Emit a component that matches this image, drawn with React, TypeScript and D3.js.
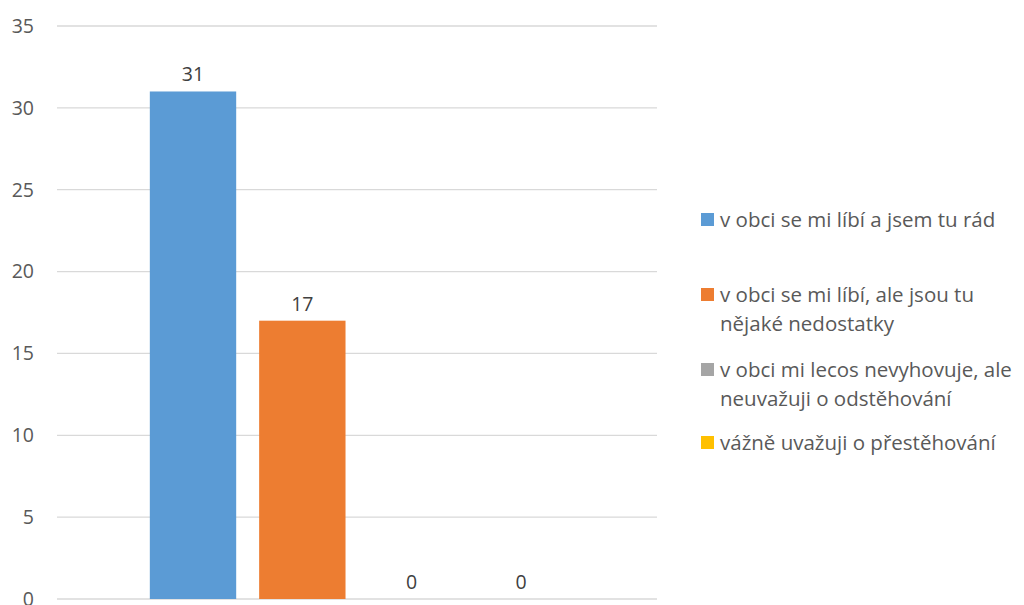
import React from 'react';
import * as d3 from 'd3';

const seriesNames = [
  'v obci se mi líbí a jsem tu rád',
  'v obci se mi líbí, ale jsou tu nějaké nedostatky',
  'v obci mi lecos nevyhovuje, ale neuvažuji o odstěhování',
  'vážně uvažuji o přestěhování',
];
const legendLines = [
  ['v obci se mi líbí a jsem tu rád'],
  ['v obci se mi líbí, ale jsou tu', 'nějaké nedostatky'],
  ['v obci mi lecos nevyhovuje, ale', 'neuvažuji o odstěhování'],
  ['vážně uvažuji o přestěhování'],
];
const values = [31, 17, 0, 0];
const colors = ['#5B9BD5', '#ED7D31', '#A5A5A5', '#FFC000'];
const yTicks = [0, 5, 10, 15, 20, 25, 30, 35];
const legendY = [220, 295, 370, 443];

const W = 1024;
const H = 605;
const FONT = '"Open Sans", sans-serif';

const App: React.FC = () => {
  const plot = { left: 57, right: 657, top: 26, bottom: 599 };

  const y = d3.scaleLinear().domain([0, 35]).range([plot.bottom, plot.top]);
  const x0 = d3.scaleBand<string>().domain(['all']).range([plot.left, plot.right]).padding(0.183);
  const x1 = d3.scaleBand<string>()
    .domain(seriesNames)
    .range([0, x0.bandwidth()])
    .paddingInner(0.21)
    .paddingOuter(0);
  const gx = x0('all')!;

  return (
    <div style={{ position: 'fixed', left: 0, top: 0, width: W, height: H, background: '#fff' }}>
      <svg width={W} height={H} style={{ display: 'block' }} fontFamily={FONT}>
        {/* grid */}
        {yTicks.map(t => (
          <line key={'g' + t} x1={plot.left} x2={plot.right} y1={y(t)} y2={y(t)}
            stroke="#d9d9d9" strokeWidth={1.3} />
        ))}
        {/* y labels */}
        {yTicks.map(t => (
          <text key={'t' + t} x={34} y={y(t)} dy="0.35em" textAnchor="end"
            fontSize={19.5} fill="#595959">{t}</text>
        ))}
        {/* bars */}
        {seriesNames.map((s, i) => {
          const bx = gx + x1(s)!;
          const bw = x1.bandwidth();
          return (
            <g key={s}>
              <rect x={bx} width={bw} y={y(values[i])} height={y(0) - y(values[i])} fill={colors[i]} />
              <text x={bx + bw / 2} y={y(values[i]) - 10} textAnchor="middle"
                fontSize={19.5} fill="#404040">{values[i]}</text>
            </g>
          );
        })}
        {/* legend */}
        {legendLines.map((lines, i) => (
          <g key={'l' + i} transform={`translate(701,${legendY[i]})`}>
            <rect x={0} y={-7} width={13} height={13} fill={colors[i]} />
            {lines.map((ln, j) => (
              <text key={j} x={19} y={7 + j * 28.5} fontSize={20.5} fill="#595959">{ln}</text>
            ))}
          </g>
        ))}
      </svg>
    </div>
  );
};

export default App;
